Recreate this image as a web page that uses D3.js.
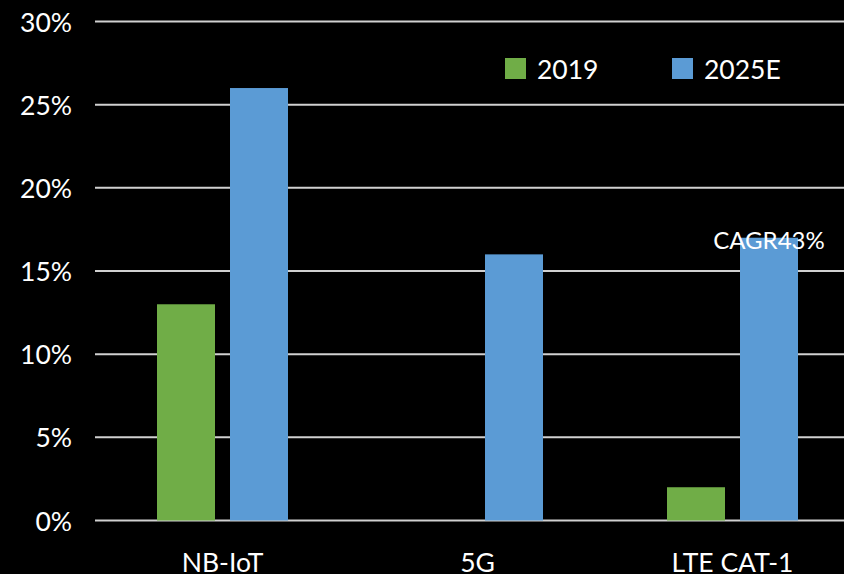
<!DOCTYPE html>
<html><head><meta charset="utf-8">
<script src="https://cdn.jsdelivr.net/npm/d3@7"></script>
<style>html,body{margin:0;padding:0;background:#000;overflow:hidden}</style>
</head><body>
<svg id="c" width="844" height="574"></svg>
<script>
const categories = ["NB-IoT", "5G", "LTE CAT-1"];
const seriesNames = ["2019", "2025E"];
const values2019 = [0.13, 0, 0.02];
const values2025E = [0.26, 0.16, 0.17];
const yTicks = [0, 0.05, 0.10, 0.15, 0.20, 0.25, 0.30];
const annotations = [{category: "LTE CAT-1", series: "2025E", text: "CAGR43%"}];
const colors = {"2019": "#70ad47", "2025E": "#5b9bd5"};

const font = "Lato, 'Open Sans', sans-serif";
const svg = d3.select("#c");
svg.append("rect").attr("width", 844).attr("height", 574).attr("fill", "#000");

const x0 = d3.scaleBand().domain(categories).range([95, 860]).padding(0);
const x1 = d3.scaleBand().domain(seriesNames).range([62, 193]).paddingInner(15/73);
const y = d3.scaleLinear().domain([0, 0.30]).range([520.5, 21.5]);

// gridlines
svg.append("g").selectAll("line").data(yTicks).join("line")
  .attr("x1", 95).attr("x2", 860)
  .attr("y1", d => y(d)).attr("y2", d => y(d))
  .attr("stroke", "#d0d0d0").attr("stroke-width", 2);

// y axis labels
const yAxis = d3.axisLeft(y).tickValues(yTicks).tickFormat(d3.format(".0%")).tickSize(0).tickPadding(0);
const ya = svg.append("g").attr("transform", "translate(72,0)").call(yAxis);
ya.select(".domain").remove();
ya.selectAll("text").attr("fill", "#fff").attr("font-family", font).attr("font-size", 26.5).attr("dy", "0.36em");

// bars
const data = categories.map((c, i) => ({category: c, vals: [
  {series: "2019", value: values2019[i]},
  {series: "2025E", value: values2025E[i]}]}));
const groups = svg.append("g").selectAll("g").data(data).join("g")
  .attr("transform", d => `translate(${x0(d.category)},0)`);
groups.selectAll("rect").data(d => d.vals.filter(v => v.value > 0)).join("rect")
  .attr("x", d => x1(d.series)).attr("width", x1.bandwidth())
  .attr("y", d => y(d.value)).attr("height", d => y(0) - y(d.value))
  .attr("fill", d => colors[d.series]);

// x axis labels
const xAxis = d3.axisBottom(x0).tickSize(0).tickPadding(0);
const xa = svg.append("g").attr("transform", "translate(0,572)").call(xAxis);
xa.select(".domain").remove();
xa.selectAll("text").attr("fill", "#fff").attr("font-family", font).attr("font-size", 26.5).attr("dy", 0);

// annotations
annotations.forEach(a => {
  const i = categories.indexOf(a.category);
  const v = a.series === "2019" ? values2019[i] : values2025E[i];
  svg.append("text")
    .attr("x", x0(a.category) + x1(a.series) + x1.bandwidth() / 2)
    .attr("y", y(v) + 11.5)
    .attr("text-anchor", "middle").attr("fill", "#fff")
    .attr("font-family", font).attr("font-size", 24)
    .text(a.text);
});

// legend
const legendPos = [{series: "2019", x: 505}, {series: "2025E", x: 672}];
const lg = svg.append("g").selectAll("g").data(legendPos).join("g")
  .attr("transform", d => `translate(${d.x},58)`);
lg.append("rect").attr("width", 21).attr("height", 21).attr("fill", d => colors[d.series]);
lg.append("text").attr("x", 32).attr("y", 21.3).attr("fill", "#fff")
  .attr("font-family", font).attr("font-size", 26.5).text(d => d.series);
</script>
</body></html>
